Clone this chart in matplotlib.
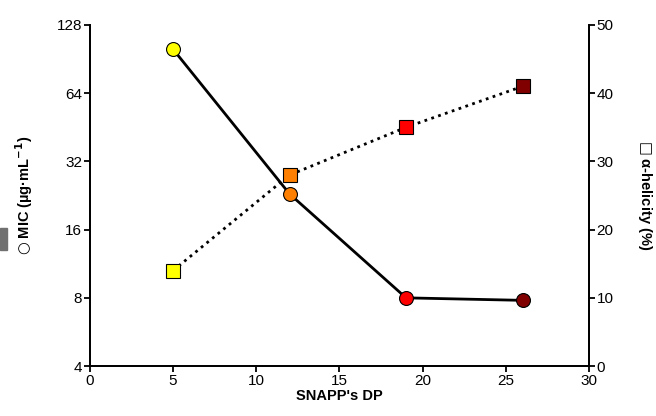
import matplotlib
matplotlib.use('Agg')
from matplotlib import pyplot as plt
from matplotlib.patches import Rectangle
from matplotlib.ticker import FixedLocator, FixedFormatter, NullLocator

plt.rcParams['font.family'] = ['Liberation Sans', 'DejaVu Sans']

# data
dp = [5, 12, 19, 26]
mic = [100, 23, 8, 7.8]            # ug/mL, left log2 axis
helicity = [14, 28, 35, 41]        # %, right axis
colors = ['#ffff00', '#ff8000', '#ff0000', '#800000']

mic_ticks = [4, 8, 16, 32, 64, 128]
x_ticks = [0, 5, 10, 15, 20, 25, 30]
hel_ticks = [0, 10, 20, 30, 40, 50]

fig = plt.figure(figsize=(6.56, 4.16), dpi=100)
ax = fig.add_axes([0.137, 0.120, 0.761, 0.820])
ax2 = ax.twinx()

# MIC line + circles
ax.plot(dp, mic, color='black', lw=2.0, zorder=2)
for x, y, c in zip(dp, mic, colors):
    ax.plot(x, y, marker='o', ms=10, mfc=c, mec='black', mew=0.8, zorder=3)

# helicity line + squares
ax2.plot(dp, helicity, color='black', lw=2.0, ls=(0, (1, 1.6)), zorder=2)
for x, y, c in zip(dp, helicity, colors):
    ax2.plot(x, y, marker='s', ms=10.5, mfc=c, mec='black', mew=0.8, zorder=3)

ax.set_yscale('log', base=2)
ax.set_ylim(4, 128)
ax.yaxis.set_major_locator(FixedLocator(mic_ticks))
ax.yaxis.set_major_formatter(FixedFormatter([str(t) for t in mic_ticks]))
ax.yaxis.set_minor_locator(NullLocator())
ax.set_xlim(0, 30)
ax.set_xticks(x_ticks)
ax2.set_ylim(0, 50)
ax2.set_yticks(hel_ticks)

for a in (ax, ax2):
    a.spines['top'].set_visible(False)
    for s in ('left', 'right', 'bottom'):
        a.spines[s].set_linewidth(1.3)
    a.tick_params(width=1.3, length=4, labelsize=11, pad=1.5)

ax.set_xlabel("SNAPP's DP", fontsize=10.5, fontweight='bold', labelpad=1)
ax.set_ylabel('$\\bigcirc$ MIC (\u00b5g\u00b7mL$^{\\mathbf{-1}}$)', fontsize=10.5,
              fontweight='bold', labelpad=16)
ax2.set_ylabel('$\u25a1$ \u03b1-helicity (%)', fontsize=10.5, fontweight='bold',
               rotation=270, labelpad=29)

# small grey block at the left edge of the reference
fig.patches.append(Rectangle((0, 0.40), 0.011, 0.052, transform=fig.transFigure,
                             color='#707070', zorder=0))

fig.savefig('out.png', dpi=100)
